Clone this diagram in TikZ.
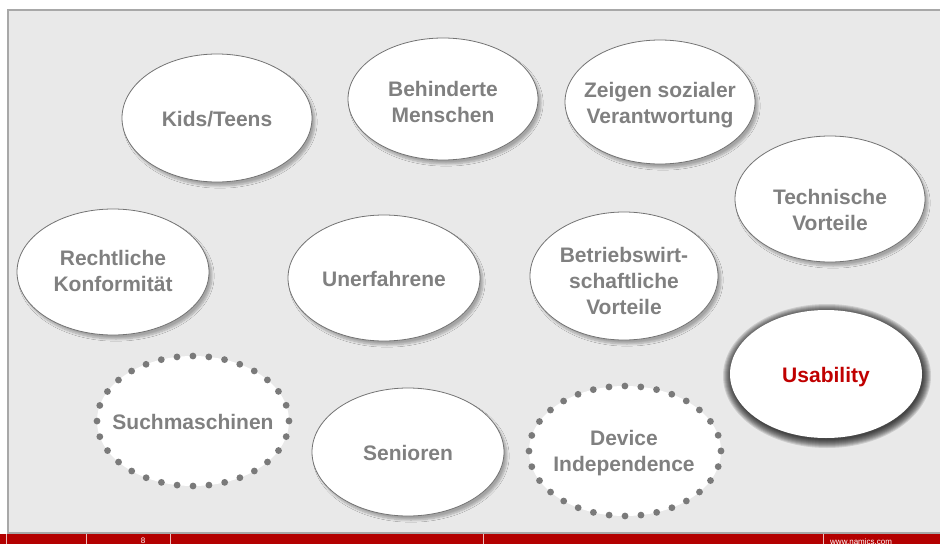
\documentclass[tikz,border=0pt]{standalone}
\usepackage{fontspec}
\setmainfont{Liberation Sans}
\usetikzlibrary{shadows.blur}
\definecolor{panel}{HTML}{E9E9E9}
\definecolor{panelline}{HTML}{A8A8A8}
\definecolor{txtgray}{HTML}{808080}
\definecolor{barred}{HTML}{B30000}
\definecolor{usared}{HTML}{C00000}
\definecolor{dotgray}{HTML}{7A7A7A}
\tikzset{
  bubbleshape/.style={draw=black!55, line width=0.8pt, fill=white,
    blur shadow={shadow xshift=3pt, shadow yshift=-4pt, shadow opacity=30, shadow blur steps=8}},
  dotshape/.style={fill=white, draw=dotgray, line width=6.8pt,
    dash pattern=on 0pt off 15.95pt, line cap=round},
  txt/.style={inner sep=0pt, align=center, text=txtgray,
    font=\fontsize{21}{26}\selectfont\bfseries},
  usatxt/.style={txt, text=usared},
  bartext/.style={text=white, font=\fontsize{8}{9}\selectfont, inner sep=0pt}
}
\begin{document}
\begin{tikzpicture}[x=1pt,y=-1pt]
\useasboundingbox (0,0) rectangle (940,544);
\fill[white] (0,0) rectangle (940,544);
% panel
\fill[panel] (8,10) rectangle (942,533);
\draw[panelline, line width=1.2pt] (942,10) -- (8,10) -- (8,533) -- (942,533);
% bottom bar
\fill[barred] (0,534) rectangle (940,544);
\foreach \sx in {6.5,86.5,170.5,483.5,823.5}
  \draw[white!75!barred, line width=0.8pt] (\sx,534) -- (\sx,544);
\node[bartext, anchor=north] (pnum) at (143,538) {8};
\node[bartext, anchor=north west] (web) at (830,538) {www.namics.com};
% plain bubbles
\draw[bubbleshape] (217,118) ellipse (95 and 64);
\node[txt] (kids) at (217,119) {Kids/Teens};
\draw[bubbleshape] (443,99) ellipse (95 and 61);
\node[txt] (behind) at (443,102) {Behinderte\\Menschen};
\draw[bubbleshape] (660,102) ellipse (95 and 62);
\node[txt] (zeigen) at (660,105) {Zeigen sozialer\\Verantwortung};
\draw[bubbleshape] (830,199) ellipse (95 and 63);
\node[txt] (tech) at (830,210) {Technische\\Vorteile};
\draw[bubbleshape] (113,272) ellipse (96 and 63);
\node[txt] (recht) at (113,271) {Rechtliche\\Konformität};
\draw[bubbleshape] (384,278) ellipse (96 and 63);
\node[txt] (unerf) at (384,279) {Unerfahrene};
\draw[bubbleshape] (624,276) ellipse (94 and 64);
\node[txt] (betr) at (624,281) {Betriebswirt-\\schaftliche\\Vorteile};
\draw[bubbleshape] (408,452) ellipse (96 and 64);
\node[txt] (senior) at (408,453) {Senioren};
% dotted bubbles
\draw[dotshape] (193,421) ellipse (96 and 65);
\node[txt] (such) at (193,422) {Suchmaschinen};
\draw[dotshape] (625,451) ellipse (96 and 65);
\node[txt] (device) at (624,453) {Device\\Independence};
% usability with dark glow
\foreach \i in {9,...,1}
  \fill[black, opacity=0.12] (827,376) ellipse ({95+\i} and {63+\i});
\fill[white] (826,374) ellipse (96 and 64);
\node[usatxt] (usab) at (826,377) {Usability};
\end{tikzpicture}
\end{document}
